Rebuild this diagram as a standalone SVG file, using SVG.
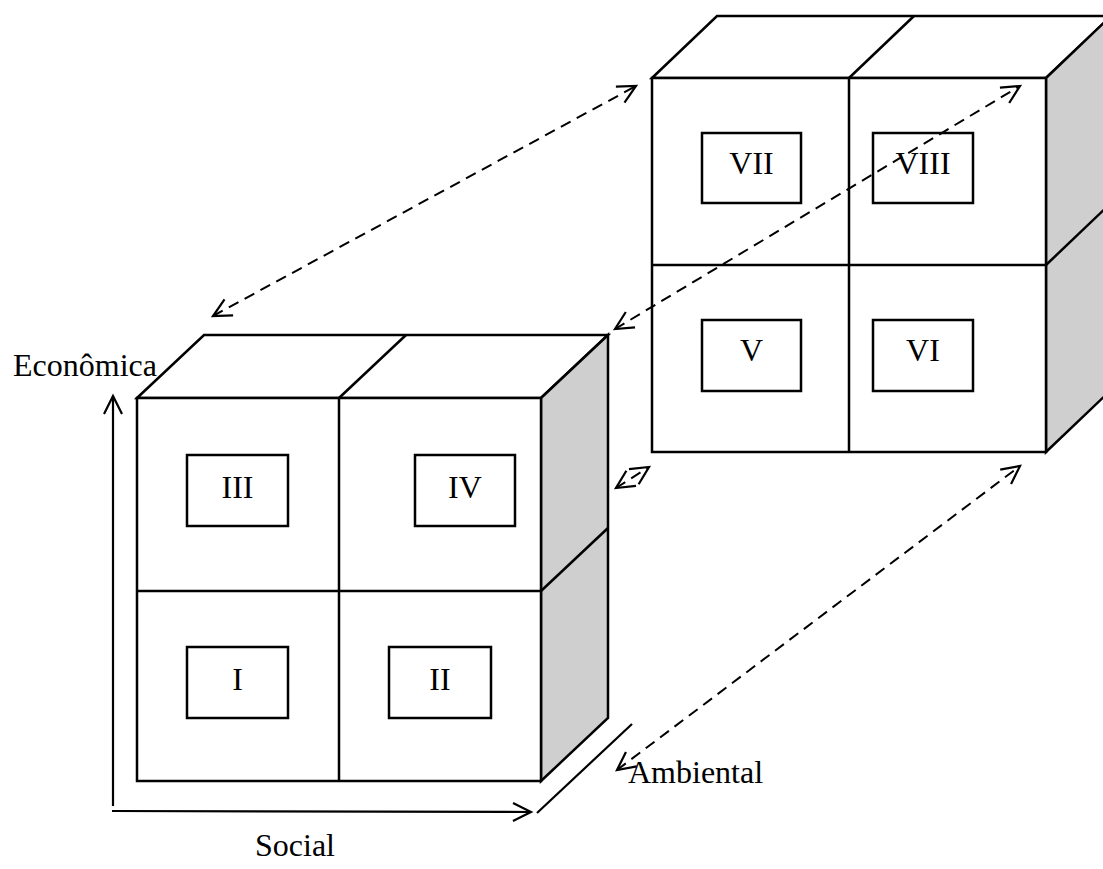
<svg xmlns="http://www.w3.org/2000/svg" width="1103" height="869" viewBox="0 0 1103 869">
  <style>
    .edge { fill: none; stroke: #000; stroke-width: 2.5; stroke-linejoin: miter; }
    .face { fill: #fff; stroke: #000; stroke-width: 2.5; }
    .side { fill: #cfcfcf; stroke: #000; stroke-width: 2.5; }
    .cell { fill: #fff; stroke: #000; stroke-width: 2.5; }
    .lbl { font-family: "Liberation Serif", "Times New Roman", serif; font-size: 32px; fill: #000; }
    .axis { fill: none; stroke: #000; stroke-width: 2.2; }
    .link { fill: none; stroke: #000; stroke-width: 2; stroke-dasharray: 11 7; }
  </style>
  <defs>
    <marker id="open" viewBox="-20 -12 24 24" markerWidth="24" markerHeight="24" refX="0" refY="0" orient="auto-start-reverse" markerUnits="userSpaceOnUse">
      <path d="M-18,-9 L0,0 L-18,9" fill="none" stroke="#000" stroke-width="2.2"/>
    </marker>
  </defs>

  <!-- rear block: cells V to VIII -->
  <g id="cube-back">
    <polygon class="face" points="652,78 717,16 1111,16 1046,78"/>
    <polygon class="side" points="1046,78 1111,16 1111,390 1046,452"/>
    <rect class="face" x="652" y="78" width="394" height="374"/>
    <line class="edge" x1="849" y1="78" x2="914" y2="16"/>
    <line class="edge" x1="849" y1="78" x2="849" y2="452"/>
    <line class="edge" x1="652" y1="265" x2="1046" y2="265"/>
    <line class="edge" x1="1046" y1="265" x2="1111" y2="203"/>
  </g>
  <g id="cell-VII">
    <rect class="cell" x="702" y="133" width="99" height="70"/>
    <text class="lbl" x="751.5" y="174" text-anchor="middle">VII</text>
  </g>
  <g id="cell-VIII">
    <rect class="cell" x="873" y="133" width="100" height="70"/>
    <text class="lbl" x="923" y="174" text-anchor="middle">VIII</text>
  </g>
  <g id="cell-V">
    <rect class="cell" x="702" y="320" width="99" height="71"/>
    <text class="lbl" x="751.5" y="361" text-anchor="middle">V</text>
  </g>
  <g id="cell-VI">
    <rect class="cell" x="873" y="320" width="100" height="71"/>
    <text class="lbl" x="923" y="361" text-anchor="middle">VI</text>
  </g>

  <!-- front block: cells I to IV -->
  <g id="cube-front">
    <polygon class="face" points="137,398 204,335 608,335 541,398"/>
    <polygon class="side" points="541,398 608,335 608,718 541,781"/>
    <rect class="face" x="137" y="398" width="404" height="383"/>
    <line class="edge" x1="339" y1="398" x2="406" y2="335"/>
    <line class="edge" x1="339" y1="398" x2="339" y2="781"/>
    <line class="edge" x1="137" y1="591" x2="541" y2="591"/>
    <line class="edge" x1="541" y1="591" x2="608" y2="528"/>
  </g>
  <g id="cell-III">
    <rect class="cell" x="187" y="455" width="101" height="71"/>
    <text class="lbl" x="237.5" y="498" text-anchor="middle">III</text>
  </g>
  <g id="cell-IV">
    <rect class="cell" x="415" y="455" width="100" height="71"/>
    <text class="lbl" x="465" y="498" text-anchor="middle">IV</text>
  </g>
  <g id="cell-I">
    <rect class="cell" x="187" y="647" width="101" height="71"/>
    <text class="lbl" x="237.5" y="690" text-anchor="middle">I</text>
  </g>
  <g id="cell-II">
    <rect class="cell" x="389" y="647" width="102" height="71"/>
    <text class="lbl" x="440" y="690" text-anchor="middle">II</text>
  </g>

  <!-- axes -->
  <g id="axes">
    <line class="axis" x1="113" y1="806" x2="113" y2="396" marker-end="url(#open)"/>
    <line class="axis" x1="112" y1="811" x2="531" y2="812" marker-end="url(#open)"/>
    <line class="axis" x1="537" y1="813" x2="632" y2="724"/>
    <text class="lbl" x="13" y="376">Econômica</text>
    <text class="lbl" x="255" y="856">Social</text>
    <text class="lbl" x="628" y="783">Ambiental</text>
  </g>

  <!-- correspondence links between the two blocks -->
  <g id="connectors">
    <line class="link" x1="213" y1="316" x2="636" y2="86" marker-start="url(#open)" marker-end="url(#open)"/>
    <line class="link" x1="615" y1="329" x2="1020" y2="86" marker-start="url(#open)" marker-end="url(#open)"/>
    <line class="link" x1="616" y1="488" x2="649" y2="467" marker-start="url(#open)" marker-end="url(#open)"/>
    <line class="link" x1="617" y1="770" x2="1020" y2="466" marker-start="url(#open)" marker-end="url(#open)"/>
  </g>
</svg>
